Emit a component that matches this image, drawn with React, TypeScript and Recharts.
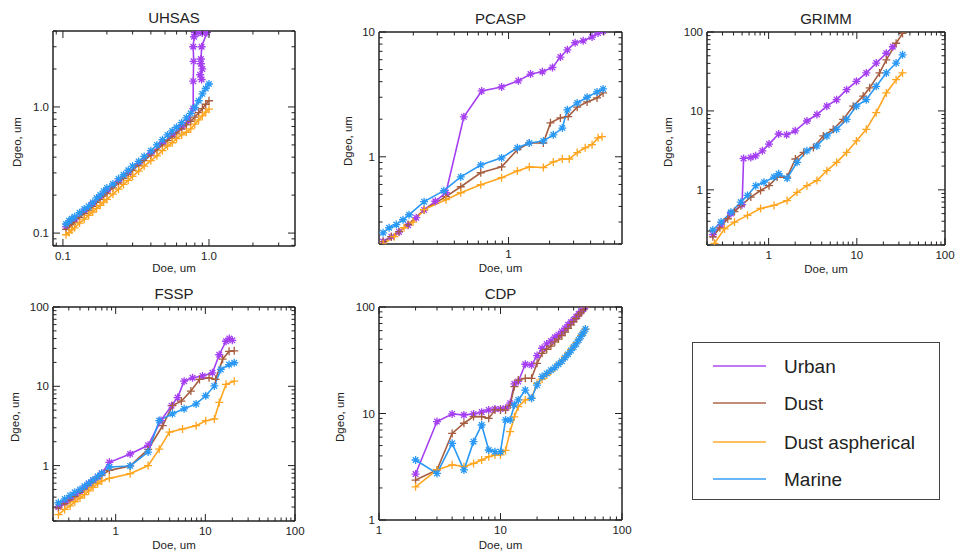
import React from "react";
import { LineChart, Line, XAxis, YAxis } from "recharts";

const FONT = "'Liberation Sans', Arial, Helvetica, sans-serif";
const INK = "#222";

const URBAN = "#a53ff2";
const DUST = "#a65d3f";
const DUST_ASPH = "#ffa51f";
const MARINE = "#2a98f5";

const seriesNames = ["Urban", "Dust", "Dust aspherical", "Marine"];
const seriesColors = [URBAN, DUST, DUST_ASPH, MARINE];

// ---- UHSAS ----
const uhsasX = [0.105, 0.11, 0.115, 0.12, 0.13, 0.14, 0.15, 0.16, 0.17, 0.18, 0.19, 0.2, 0.22, 0.24, 0.26, 0.28, 0.3, 0.33, 0.36, 0.4, 0.44, 0.48, 0.52, 0.56, 0.6, 0.65, 0.7, 0.75, 0.8, 0.85, 0.9, 0.95, 1.0];
const uhsasMarine = [0.118, 0.125, 0.13, 0.135, 0.145, 0.155, 0.163, 0.175, 0.19, 0.2, 0.215, 0.228, 0.245, 0.27, 0.29, 0.315, 0.34, 0.37, 0.405, 0.45, 0.5, 0.55, 0.6, 0.645, 0.69, 0.75, 0.82, 0.89, 0.99, 1.12, 1.27, 1.4, 1.52];
const uhsasDust = [0.107, 0.112, 0.117, 0.122, 0.133, 0.143, 0.152, 0.163, 0.175, 0.185, 0.196, 0.207, 0.228, 0.25, 0.272, 0.293, 0.315, 0.345, 0.375, 0.415, 0.455, 0.5, 0.54, 0.58, 0.62, 0.67, 0.72, 0.77, 0.83, 0.9, 0.97, 1.05, 1.12];
const uhsasDustAsph = [0.097, 0.101, 0.106, 0.11, 0.12, 0.129, 0.138, 0.147, 0.157, 0.166, 0.176, 0.185, 0.204, 0.223, 0.243, 0.262, 0.282, 0.31, 0.34, 0.375, 0.41, 0.45, 0.49, 0.52, 0.56, 0.6, 0.63, 0.67, 0.73, 0.79, 0.85, 0.91, 0.96];
const uhsasUrbanX = [0.105, 0.12, 0.14, 0.16, 0.18, 0.2, 0.24, 0.28, 0.33, 0.4, 0.48, 0.56, 0.65, 0.72, 0.78, 0.78, 0.785, 0.78, 0.79, 0.8, 0.85, 0.9, 0.97, 0.89, 0.88, 0.9, 0.87, 0.89, 0.88];
const uhsasUrbanY = [0.112, 0.128, 0.149, 0.17, 0.192, 0.215, 0.258, 0.3, 0.355, 0.428, 0.515, 0.6, 0.695, 0.78, 0.97, 1.6, 2.3, 3.0, 3.6, 3.88, 3.9, 3.86, 3.9, 3.0, 2.2, 2.0, 1.8, 1.65, 2.4];

// ---- PCASP ----
const pcaspUrbanX = [0.12, 0.138, 0.157, 0.183, 0.21, 0.24, 0.29, 0.347, 0.47, 0.635, 0.889, 1.18, 1.45, 1.77, 2.1, 2.4, 2.7, 3.08, 3.53, 4.1, 4.54, 4.94];
const pcaspUrbanY = [0.209, 0.229, 0.25, 0.283, 0.325, 0.375, 0.44, 0.515, 2.09, 3.37, 3.63, 4.06, 4.6, 4.8, 5.2, 6.3, 7.2, 8.2, 8.5, 9.1, 9.8, 10.2];
const pcaspDustX = [0.12, 0.138, 0.157, 0.183, 0.24, 0.347, 0.446, 0.625, 0.889, 1.16, 1.42, 1.8, 2.03, 2.4, 2.74, 3.19, 3.77, 4.46, 4.94];
const pcaspDustY = [0.209, 0.229, 0.251, 0.286, 0.377, 0.479, 0.575, 0.745, 0.83, 1.14, 1.29, 1.29, 1.87, 2.05, 2.1, 2.5, 2.75, 2.96, 3.25];
const pcaspDustAsphX = [0.12, 0.145, 0.171, 0.199, 0.24, 0.347, 0.446, 0.625, 0.889, 1.16, 1.42, 1.8, 2.13, 2.48, 2.79, 3.19, 3.65, 4.1, 4.54, 4.85];
const pcaspDustAsphY = [0.2, 0.229, 0.27, 0.3, 0.377, 0.453, 0.515, 0.597, 0.68, 0.77, 0.83, 0.82, 0.91, 0.96, 0.96, 1.08, 1.18, 1.25, 1.42, 1.45];
const pcaspMarineX = [0.12, 0.133, 0.15, 0.168, 0.186, 0.24, 0.335, 0.446, 0.625, 0.889, 1.16, 1.42, 1.8, 2.13, 2.48, 2.7, 3.19, 3.77, 4.46, 4.94];
const pcaspMarineY = [0.246, 0.27, 0.286, 0.313, 0.343, 0.437, 0.535, 0.69, 0.86, 0.98, 1.18, 1.29, 1.34, 1.5, 1.7, 2.38, 2.7, 3.0, 3.31, 3.5];

// ---- GRIMM ----
const grimmUrbanX = [0.233, 0.289, 0.374, 0.5, 0.52, 0.628, 0.714, 0.85, 1.01, 1.3, 1.6, 2.0, 2.72, 3.53, 4.57, 5.9, 7.66, 9.9, 12.8, 16.6, 21.6, 25.6];
const grimmUrbanY = [0.27, 0.36, 0.5, 0.65, 2.5, 2.57, 2.7, 3.12, 3.8, 5.1, 5.0, 5.6, 7.45, 9.0, 11.5, 13.9, 18.6, 23.7, 30.3, 40.4, 53.8, 65];
const grimmDustX = [0.233, 0.28, 0.344, 0.41, 0.484, 0.628, 0.81, 1.01, 1.25, 1.62, 2.01, 2.49, 3.22, 4.17, 5.4, 7.0, 9.1, 11.8, 14.0, 18.1, 21.6, 27.9, 33];
const grimmDustY = [0.254, 0.33, 0.43, 0.53, 0.63, 0.81, 0.98, 1.13, 1.45, 1.45, 2.46, 2.98, 3.44, 4.82, 5.84, 7.8, 11.5, 15.4, 19.6, 30.3, 44.4, 72, 96];
const grimmDustAsphX = [0.243, 0.316, 0.41, 0.576, 0.81, 1.15, 1.62, 2.1, 2.72, 3.53, 4.57, 5.9, 7.66, 9.9, 12.8, 16.6, 21.6, 27.9, 33];
const grimmDustAsphY = [0.21, 0.32, 0.39, 0.475, 0.58, 0.635, 0.73, 0.93, 1.13, 1.31, 1.75, 2.23, 2.98, 4.17, 5.84, 9.5, 16.9, 24.9, 30.3];
const grimmMarineX = [0.233, 0.289, 0.374, 0.484, 0.576, 0.714, 0.886, 1.15, 1.3, 1.62, 2.1, 2.72, 3.53, 4.57, 5.9, 7.66, 9.9, 12.8, 16.6, 21.6, 27.9, 33];
const grimmMarineY = [0.31, 0.39, 0.52, 0.7, 0.85, 1.13, 1.25, 1.45, 1.6, 1.4, 2.23, 3.12, 3.6, 4.82, 5.84, 7.8, 11.5, 13.9, 20.5, 30.3, 40.4, 51.4];

// ---- FSSP ----
const fsspUrbanX = [0.23, 0.27, 0.31, 0.35, 0.4, 0.45, 0.5, 0.56, 0.63, 0.7, 0.85, 1.45, 2.3, 3.2, 4.2, 4.9, 5.8, 7.2, 9.3, 12, 14.3, 17, 18.5, 20];
const fsspUrbanY = [0.3, 0.34, 0.38, 0.42, 0.47, 0.53, 0.59, 0.65, 0.72, 0.8, 1.1, 1.4, 1.8, 3.7, 5.7, 7.2, 11.6, 12.8, 13.5, 14.8, 25, 37, 40, 38];
const fsspDustX = [0.23, 0.27, 0.31, 0.35, 0.4, 0.45, 0.5, 0.56, 0.63, 0.7, 0.85, 1.45, 2.3, 3.35, 4.3, 5.4, 6.9, 8.6, 11, 13, 15.6, 18.4, 21];
const fsspDustY = [0.29, 0.33, 0.37, 0.41, 0.46, 0.51, 0.56, 0.62, 0.69, 0.76, 0.87, 0.99, 1.6, 3.2, 5.7, 6.5, 8.7, 12.2, 12.8, 12.2, 22, 27.6, 28];
const fsspDustAsphX = [0.23, 0.27, 0.31, 0.35, 0.4, 0.45, 0.5, 0.56, 0.63, 0.7, 0.85, 1.45, 2.3, 3.06, 3.97, 5.57, 7.9, 10.1, 12.6, 14.3, 17, 21];
const fsspDustAsphY = [0.24, 0.28, 0.31, 0.35, 0.39, 0.43, 0.48, 0.53, 0.59, 0.64, 0.69, 0.79, 1.0, 1.61, 2.64, 2.9, 3.19, 3.68, 3.87, 6.25, 10.6, 11.6];
const fsspMarineX = [0.23, 0.27, 0.31, 0.35, 0.4, 0.45, 0.5, 0.56, 0.63, 0.7, 0.85, 1.45, 2.3, 3.06, 4.3, 5.8, 7.9, 10.1, 12.6, 14.9, 18.4, 21];
const fsspMarineY = [0.34, 0.38, 0.42, 0.46, 0.5, 0.55, 0.6, 0.66, 0.73, 0.8, 0.96, 0.99, 1.48, 3.7, 4.5, 5.2, 6.0, 7.6, 10.1, 16.3, 18.8, 19.8];

// ---- CDP ----
const cdpX = [2, 3, 4, 5, 6, 7, 8, 9, 10, 11, 12, 13, 14, 16, 18, 20, 22, 24, 26, 28, 30, 32, 34, 36, 38, 40, 42, 44, 46, 48, 50];
const cdpUrban = [2.7, 8.4, 9.9, 9.7, 9.9, 10.3, 10.8, 11, 11, 11.2, 12.5, 19, 20, 29, 28.5, 35, 41, 45, 48, 52, 55, 59, 63, 68, 72, 76, 81, 86, 91, 96, 101];
const cdpDust = [2.37, 2.95, 6.5, 8.1, 9.35, 9.35, 9.0, 10.8, 10.8, 10.8, 12, 17.9, 20.6, 21.4, 21.4, 29.6, 36.7, 40, 43, 47, 50, 54, 58, 63, 68, 73, 78, 84, 88, 94, 100];
const cdpDustAsph = [2.05, 2.95, 3.3, 3.17, 3.4, 3.66, 3.93, 4.08, 4.08, 4.5, 6.75, 9.3, 11.6, 13.4, 13.9, 19.2, 21, 23, 25, 27, 29, 31.5, 34, 37, 40, 43, 46, 50, 54, 58, 62];
const cdpMarine = [3.66, 2.74, 5.25, 2.95, 5.44, 7.8, 4.54, 4.38, 4.38, 8.7, 8.7, 12, 13.4, 16.6, 13.9, 18.5, 22.2, 23.8, 25.5, 27, 29, 31, 33.5, 36, 39, 42, 45, 49, 53, 57, 62];

// tick labels
const labelsTenth: Record<string, string> = { "0.1": "0.1", "1": "1.0" };
const labelsOne: Record<string, string> = { "1": "1" };
const labelsOneTen: Record<string, string> = { "1": "1", "10": "10" };
const labelsDecades: Record<string, string> = { "1": "1", "10": "10", "100": "100" };

type Pt = { x: number; y: number };
const pts = (xs: number[], ys: number[]): Pt[] => xs.map((x, i) => ({ x, y: ys[i] }));

interface Series {
  color: string;
  star: boolean;
  data: Pt[];
}

interface PanelDef {
  title: string;
  box: { l: number; t: number; r: number; b: number };
  xDomain: [number, number];
  yDomain: [number, number];
  xLabels: Record<string, string>;
  yLabels: Record<string, string>;
  yTitleX: number;
  xTitleY: number;
  series: Series[];
}

function four(u: Pt[], d: Pt[], a: Pt[], m: Pt[]): Series[] {
  return [
    { color: URBAN, star: true, data: u },
    { color: DUST, star: false, data: d },
    { color: DUST_ASPH, star: false, data: a },
    { color: MARINE, star: true, data: m },
  ];
}

const panels: PanelDef[] = [
  {
    title: "UHSAS",
    box: { l: 53, t: 31, r: 295, b: 246 },
    xDomain: [0.0855, 3.88],
    yDomain: [0.079, 4.0],
    xLabels: labelsTenth,
    yLabels: labelsTenth,
    yTitleX: 17,
    xTitleY: 268,
    series: four(
      pts(uhsasUrbanX, uhsasUrbanY),
      pts(uhsasX, uhsasDust),
      pts(uhsasX, uhsasDustAsph),
      pts(uhsasX, uhsasMarine)
    ),
  },
  {
    title: "PCASP",
    box: { l: 379, t: 32, r: 622, b: 244 },
    xDomain: [0.112, 6.8],
    yDomain: [0.2, 10],
    xLabels: labelsOne,
    yLabels: labelsOneTen,
    yTitleX: 348,
    xTitleY: 268,
    series: four(
      pts(pcaspUrbanX, pcaspUrbanY),
      pts(pcaspDustX, pcaspDustY),
      pts(pcaspDustAsphX, pcaspDustAsphY),
      pts(pcaspMarineX, pcaspMarineY)
    ),
  },
  {
    title: "GRIMM",
    box: { l: 707, t: 32, r: 945, b: 245 },
    xDomain: [0.2, 100],
    yDomain: [0.2, 100],
    xLabels: labelsDecades,
    yLabels: labelsDecades,
    yTitleX: 668,
    xTitleY: 269,
    series: four(
      pts(grimmUrbanX, grimmUrbanY),
      pts(grimmDustX, grimmDustY),
      pts(grimmDustAsphX, grimmDustAsphY),
      pts(grimmMarineX, grimmMarineY)
    ),
  },
  {
    title: "FSSP",
    box: { l: 53, t: 307, r: 295, b: 521 },
    xDomain: [0.2, 100],
    yDomain: [0.2, 100],
    xLabels: labelsDecades,
    yLabels: labelsDecades,
    yTitleX: 15,
    xTitleY: 545,
    series: four(
      pts(fsspUrbanX, fsspUrbanY),
      pts(fsspDustX, fsspDustY),
      pts(fsspDustAsphX, fsspDustAsphY),
      pts(fsspMarineX, fsspMarineY)
    ),
  },
  {
    title: "CDP",
    box: { l: 379, t: 307, r: 622, b: 520 },
    xDomain: [1, 100],
    yDomain: [1, 100],
    xLabels: labelsDecades,
    yLabels: labelsDecades,
    yTitleX: 340,
    xTitleY: 545,
    series: four(
      pts(cdpX, cdpUrban),
      pts(cdpX, cdpDust),
      pts(cdpX, cdpDustAsph),
      pts(cdpX, cdpMarine)
    ),
  },
];

// 1..9 x 10^k inside the domain
function logTicks(lo: number, hi: number): number[] {
  const out: number[] = [];
  for (let e = Math.floor(Math.log10(lo)); e <= Math.ceil(Math.log10(hi)); e++) {
    for (let m = 1; m <= 9; m++) {
      const v = +(m * Math.pow(10, e)).toPrecision(6);
      if (v >= lo * 0.9999 && v <= hi * 1.0001) out.push(v);
    }
  }
  return out;
}

function AxisTick(props: any) {
  const { x, y, payload, side, labels } = props;
  const v = payload.value as number;
  const lg = Math.log10(v);
  const major = Math.abs(lg - Math.round(lg)) < 1e-6;
  const len = major ? 7 : 3.5;
  const label = labels ? labels[String(v)] : undefined;
  const stroke = { stroke: INK, strokeWidth: 1 };
  const txt = { fontFamily: FONT, fontSize: 11.5, fill: INK };
  if (side === "bottom") {
    return (
      <g>
        <line x1={x} y1={y} x2={x} y2={y - len} {...stroke} />
        {label && (
          <text x={x} y={y + 14} textAnchor="middle" {...txt}>
            {label}
          </text>
        )}
      </g>
    );
  }
  if (side === "top") {
    return <line x1={x} y1={y} x2={x} y2={y + len} {...stroke} />;
  }
  if (side === "left") {
    return (
      <g>
        <line x1={x} y1={y} x2={x + len} y2={y} {...stroke} />
        {label && (
          <text x={x - 4} y={y + 4} textAnchor="end" {...txt}>
            {label}
          </text>
        )}
      </g>
    );
  }
  return <line x1={x} y1={y} x2={x - len} y2={y} {...stroke} />;
}

function Marker({ cx, cy, color, star }: any) {
  if (cx == null || cy == null || isNaN(cx) || isNaN(cy)) return null;
  const a = 4;
  let d = `M${cx - a},${cy}H${cx + a}M${cx},${cy - a}V${cy + a}`;
  if (star) {
    const b = 2.8;
    d += `M${cx - b},${cy - b}L${cx + b},${cy + b}M${cx - b},${cy + b}L${cx + b},${cy - b}`;
  }
  return <path d={d} stroke={color} strokeWidth={1.3} fill="none" />;
}

const axisLine = { stroke: INK, strokeWidth: 1.5 };

function Panel({ p }: { p: PanelDef }) {
  const w = p.box.r - p.box.l;
  const h = p.box.b - p.box.t;
  const xt = logTicks(p.xDomain[0], p.xDomain[1]);
  const yt = logTicks(p.yDomain[0], p.yDomain[1]);
  const cx = (p.box.l + p.box.r) / 2;
  const cy = (p.box.t + p.box.b) / 2;
  return (
    <>
      <div
        style={{
          position: "absolute",
          left: cx - 60,
          top: p.box.t - 22,
          width: 120,
          textAlign: "center",
          fontFamily: FONT,
          fontSize: 15,
          lineHeight: "17px",
          color: INK,
        }}
      >
        {p.title}
      </div>
      <div style={{ position: "absolute", left: p.box.l - 50, top: p.box.t - 30 }}>
        <LineChart width={w + 60} height={h + 60} margin={{ top: 29, right: 9, bottom: 0, left: 10 }}>
          <XAxis
            xAxisId="b"
            type="number"
            dataKey="x"
            scale="log"
            domain={p.xDomain}
            allowDataOverflow
            ticks={xt}
            interval={0}
            tickSize={0}
            tickMargin={0}
            tickLine={false}
            axisLine={axisLine}
            height={30}
            tick={<AxisTick side="bottom" labels={p.xLabels} />}
          />
          <XAxis
            xAxisId="t"
            orientation="top"
            type="number"
            dataKey="x"
            scale="log"
            domain={p.xDomain}
            allowDataOverflow
            ticks={xt}
            interval={0}
            tickSize={0}
            tickMargin={0}
            tickLine={false}
            axisLine={axisLine}
            height={1}
            tick={<AxisTick side="top" />}
          />
          <YAxis
            yAxisId="l"
            type="number"
            dataKey="y"
            scale="log"
            domain={p.yDomain}
            allowDataOverflow
            ticks={yt}
            interval={0}
            tickSize={0}
            tickMargin={0}
            tickLine={false}
            axisLine={axisLine}
            width={40}
            tick={<AxisTick side="left" labels={p.yLabels} />}
          />
          <YAxis
            yAxisId="r"
            orientation="right"
            type="number"
            dataKey="y"
            scale="log"
            domain={p.yDomain}
            allowDataOverflow
            ticks={yt}
            interval={0}
            tickSize={0}
            tickMargin={0}
            tickLine={false}
            axisLine={axisLine}
            width={1}
            tick={<AxisTick side="right" />}
          />
          {p.series.map((s, i) => (
            // the first series is read against the mirrored top/right axes
            // (same domains) so those axes are drawn as the frame
            <Line
              key={i}
              xAxisId={i === 0 ? "t" : "b"}
              yAxisId={i === 0 ? "r" : "l"}
              data={s.data}
              dataKey="y"
              type="linear"
              stroke={s.color}
              strokeWidth={1.6}
              isAnimationActive={false}
              activeDot={false}
              dot={(d: any) => (
                <Marker key={`m${i}-${d.index}`} cx={d.cx} cy={d.cy} color={s.color} star={s.star} />
              )}
            />
          ))}
        </LineChart>
      </div>
      <div
        style={{
          position: "absolute",
          left: cx - 50,
          top: p.xTitleY - 7,
          width: 100,
          textAlign: "center",
          fontFamily: FONT,
          fontSize: 11.5,
          lineHeight: "14px",
          color: INK,
        }}
      >
        Doe, um
      </div>
      <div
        style={{
          position: "absolute",
          left: p.yTitleX - 50,
          top: cy + 3 - 7,
          width: 100,
          textAlign: "center",
          fontFamily: FONT,
          fontSize: 11.5,
          lineHeight: "14px",
          color: INK,
          transform: "rotate(-90deg)",
        }}
      >
        Dgeo, um
      </div>
    </>
  );
}

function LegendBox() {
  const rows = [366, 403, 442, 479];
  return (
    <div
      style={{
        position: "absolute",
        left: 692,
        top: 342,
        width: 248,
        height: 158,
        border: "1px solid #444",
        boxSizing: "border-box",
      }}
    >
      <svg width={248} height={158} style={{ position: "absolute", left: -1, top: -1 }}>
        {seriesNames.map((n, i) => (
          <g key={n}>
            <line
              x1={21}
              x2={74}
              y1={rows[i] - 342}
              y2={rows[i] - 342}
              stroke={seriesColors[i]}
              strokeOpacity={0.7}
              strokeWidth={1.8}
            />
            <text x={92} y={rows[i] - 342 + 7} fontFamily={FONT} fontSize={19} fill={INK}>
              {n}
            </text>
          </g>
        ))}
      </svg>
    </div>
  );
}

export default function App() {
  return (
    <div style={{ position: "absolute", left: 0, top: 0, width: 959, height: 552, background: "#fff" }}>
      {panels.map((p) => (
        <Panel key={p.title} p={p} />
      ))}
      <LegendBox />
    </div>
  );
}
